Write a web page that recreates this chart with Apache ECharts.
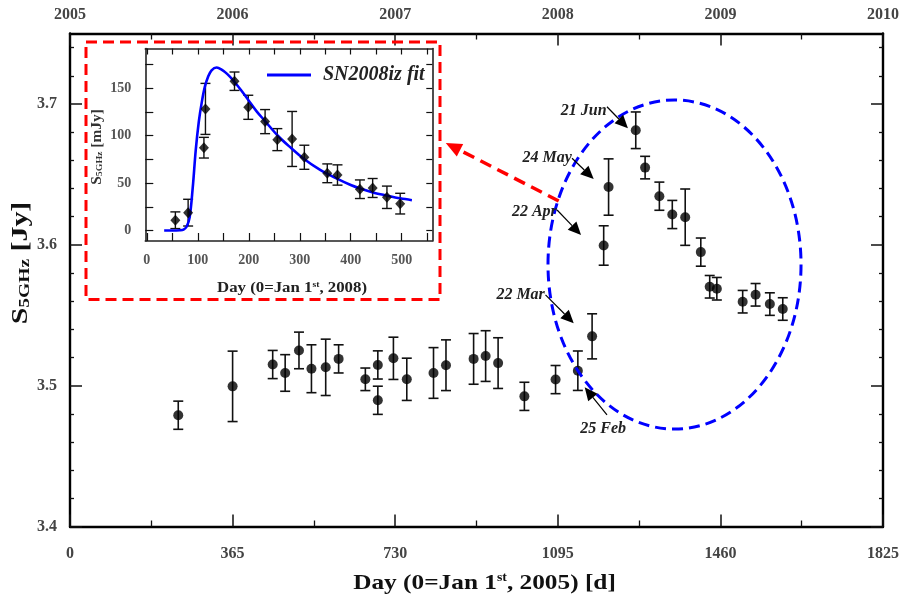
<!DOCTYPE html>
<html>
<head>
<meta charset="utf-8">
<script src="https://cdn.jsdelivr.net/npm/echarts@6/dist/echarts.min.js"></script>
<style>
  html, body { margin: 0; padding: 0; background: #fff; }
  #chart { width: 899px; height: 597px; }
</style>
</head>
<body>
<div id="chart"></div>
<script>
// 5 GHz flux density monitoring, days counted from 2005-01-01
const obsDay  = [243, 365, 455, 483, 514, 542, 574, 603, 663, 691, 691, 726, 756, 816, 844, 906, 933, 961,
                 1020, 1090, 1140, 1172, 1198, 1209, 1270, 1291, 1323, 1352, 1381, 1416, 1436, 1452, 1510, 1539, 1571, 1600];
const obsFlux = [3.479, 3.4995, 3.515, 3.509, 3.525, 3.512, 3.513, 3.519, 3.5045, 3.5147, 3.4896, 3.5194, 3.5045, 3.509, 3.5145, 3.519, 3.521, 3.516,
                 3.4924, 3.5043, 3.5106, 3.535, 3.5995, 3.641, 3.6813, 3.6548, 3.6345, 3.6215, 3.6196, 3.5948, 3.5702, 3.5688, 3.5596, 3.5645, 3.5579, 3.5544];
const obsErr  = [0.010, 0.025, 0.010, 0.013, 0.013, 0.017, 0.020, 0.010, 0.008, 0.010, 0.010, 0.015, 0.015, 0.018, 0.018, 0.018, 0.018, 0.018,
                 0.010, 0.010, 0.014, 0.016, 0.014, 0.020, 0.013, 0.008, 0.010, 0.010, 0.020, 0.010, 0.008, 0.008, 0.008, 0.008, 0.008, 0.008];

// SN2008iz light curve, days counted from 2008-01-01 (mJy)
const snDay  = [56, 81, 112, 115, 172, 199, 232, 256, 285, 309, 354, 374, 418, 443, 471, 497];
const snFlux = [10.9, 18.9, 87.4, 128.3, 157.5, 130.0, 114.9, 95.9, 96.6, 77.3, 60.4, 58.6, 43.6, 44.9, 35.1, 28.4];
const snErr  = [8.8, 14.1, 10.9, 26.9, 9.7, 12.7, 12.7, 11.6, 29.0, 12.7, 9.9, 10.7, 9.8, 10.0, 11.8, 10.9];

// Fitted light curve
const fitDay  = [34, 50, 65, 72, 78, 84, 90, 96, 102, 108, 114, 120, 127, 137, 146, 158, 170, 185, 200, 215, 231,
                 257, 283, 307, 340, 372, 400, 420, 445, 470, 497, 520];
const fitFlux = [0, 0, 0.3, 1, 4, 14, 45, 85, 115, 136, 152, 162, 169, 172, 170, 165, 158, 148, 137, 126, 116,
                 100, 87, 76, 64, 55, 48, 44, 40, 37, 34, 32];

// Tick values and labels
const dayTicks = [0, 365, 730, 1095, 1460, 1825];
const dayMinorTicks = [182.5, 547.5, 912.5, 1277.5, 1642.5];
const yearLabels = ['2005', '2006', '2007', '2008', '2009', '2010'];
const fluxTicks = [3.4, 3.5, 3.6, 3.7];
const fluxMinorTicks = [3.42, 3.44, 3.46, 3.48, 3.52, 3.54, 3.56, 3.58, 3.62, 3.64, 3.66, 3.68, 3.72, 3.74];
const snDayTicks = [0, 100, 200, 300, 400, 500];
const snDayMinorTicks = [0, 50, 100, 150, 200, 250, 300, 350, 400, 450, 500, 550];
const snFluxTicks = [0, 50, 100, 150];
const snFluxMinorTicks = [0, 25, 50, 75, 100, 125, 150, 175];

// Date labels with pointer arrows (data coordinates of the main panel)
const dateNotes = [
  { text: '21 Jun', anchor: [1204.7, 3.6952], align: 'right', from: [1205.4, 3.6980], tip: [1252.4, 3.6827] },
  { text: '24 May', anchor: [1126.3, 3.6618], align: 'right', from: [1127.0, 3.6614], tip: [1175.6, 3.6467] },
  { text: '22 Apr', anchor: [1092.8, 3.6235], align: 'right', from: [1093.4, 3.6247], tip: [1147.2, 3.6069] },
  { text: '22 Mar', anchor: [1065.9, 3.5644], align: 'right', from: [1067.4, 3.5644], tip: [1130.8, 3.5443] },
  { text: '25 Feb', anchor: [1196.9, 3.4690], align: 'center', from: [1205.4, 3.4792], tip: [1155.4, 3.4988] }
];
// Highlight ellipse around the 2008 flare (centre, semi-axes in data units)
const flareEllipse = { center: [1357, 3.586], rDay: 284, rFlux: 0.1168 };
const insetPointer = { from: [1097.0, 3.6311], tip: [843.5, 3.6723] };

const SERIF = "'Liberation Serif', 'DejaVu Serif', serif";
const MAIN = { left: 70, top: 33.5, width: 813, height: 493 };
const INSET = { left: 145.3, top: 48.5, width: 287, height: 192.5 };

const chart = echarts.init(document.getElementById('chart'), null, { renderer: 'canvas' });

function axis(o) {
  return Object.assign({
    type: 'value',
    splitLine: { show: false },
    axisLine: { show: false, onZero: false },
    axisLabel: { show: false },
    axisTick: { show: false },
    minorTick: { show: false }
  }, o);
}
const mainLine = { show: true, onZero: false, lineStyle: { color: '#000', width: 2.4 } };
const insetLine = { show: true, onZero: false, lineStyle: { color: '#222', width: 1.6 } };
const tickStyle = (len, vals, w) => ({ show: true, inside: true, length: len, customValues: vals, lineStyle: { color: '#111', width: w } });
const mainLabel = (vals, margin, fmt) => ({
  show: true, customValues: vals, margin: margin, formatter: fmt,
  color: '#444', fontFamily: SERIF, fontWeight: 'bold', fontSize: 16
});
const insetLabel = (vals, margin) => ({
  show: true, customValues: vals, margin: margin,
  color: '#555', fontFamily: SERIF, fontWeight: 'bold', fontSize: 14
});

const xAxes = [
  axis({ gridIndex: 0, position: 'bottom', min: 0, max: 1825, axisLine: mainLine,
         axisTick: tickStyle(12, dayTicks, 1.5), axisLabel: mainLabel(dayTicks, 19, v => String(v)) }),
  axis({ gridIndex: 0, position: 'bottom', min: 0, max: 1825, axisTick: tickStyle(6, dayMinorTicks, 1.3) }),
  axis({ gridIndex: 0, position: 'top', min: 0, max: 1825, axisLine: mainLine,
         axisTick: tickStyle(12, dayTicks, 1.5),
         axisLabel: mainLabel(dayTicks, 11, v => yearLabels[dayTicks.indexOf(v)]) }),
  axis({ gridIndex: 0, position: 'top', min: 0, max: 1825, axisTick: tickStyle(6, dayMinorTicks, 1.3) }),
  axis({ gridIndex: 1, position: 'bottom', min: -3, max: 560, axisLine: insetLine,
         axisTick: tickStyle(8, snDayMinorTicks, 1.2), axisLabel: insetLabel(snDayTicks, 12) }),
  axis({ gridIndex: 1, position: 'top', min: -3, max: 560, axisLine: insetLine,
         axisTick: tickStyle(6, snDayMinorTicks, 1.2) })
];
const yAxes = [
  axis({ gridIndex: 0, position: 'left', min: 3.4, max: 3.75, axisLine: mainLine,
         axisTick: tickStyle(12, fluxTicks, 1.5), axisLabel: mainLabel(fluxTicks, 13, v => v.toFixed(1)) }),
  axis({ gridIndex: 0, position: 'left', min: 3.4, max: 3.75, axisTick: tickStyle(4, fluxMinorTicks, 1.3) }),
  axis({ gridIndex: 0, position: 'right', min: 3.4, max: 3.75, axisLine: mainLine,
         axisTick: tickStyle(12, fluxTicks, 1.5) }),
  axis({ gridIndex: 0, position: 'right', min: 3.4, max: 3.75, axisTick: tickStyle(4, fluxMinorTicks, 1.3) }),
  axis({ gridIndex: 1, position: 'left', min: -11, max: 192, axisLine: insetLine,
         axisTick: tickStyle(8, snFluxMinorTicks, 1.2), axisLabel: insetLabel(snFluxTicks, 14) }),
  axis({ gridIndex: 1, position: 'right', min: -11, max: 192, axisLine: insetLine,
         axisTick: tickStyle(6, snFluxMinorTicks, 1.2) })
];

function errorBars(capHalf, width) {
  return function (params, api) {
    const x = api.value(0);
    const top = api.coord([x, api.value(2)]);
    const bot = api.coord([x, api.value(1)]);
    const style = { stroke: '#111', lineWidth: width, fill: null };
    return {
      type: 'group',
      children: [
        { type: 'line', shape: { x1: top[0], y1: top[1], x2: bot[0], y2: bot[1] }, style: style },
        { type: 'line', shape: { x1: top[0] - capHalf, y1: top[1], x2: top[0] + capHalf, y2: top[1] }, style: style },
        { type: 'line', shape: { x1: bot[0] - capHalf, y1: bot[1], x2: bot[0] + capHalf, y2: bot[1] }, style: style }
      ]
    };
  };
}

chart.setOption({
  animation: false,
  backgroundColor: '#fff',
  grid: [
    Object.assign({ containLabel: false, outerBoundsMode: 'none' }, MAIN),
    Object.assign({ containLabel: false, outerBoundsMode: 'none', show: true, backgroundColor: '#fff', borderWidth: 0 }, INSET)
  ],
  xAxis: xAxes,
  yAxis: yAxes,
  legend: {
    data: ['SN2008iz fit'],
    left: 262, top: 60,
    icon: 'rect',
    itemWidth: 44, itemHeight: 3,
    itemGap: 0,
    textStyle: { fontFamily: SERIF, fontStyle: 'italic', fontWeight: 'bold', fontSize: 20, color: '#222', padding: [0, 0, 0, 7] }
  },
  series: [
    {
      type: 'custom', xAxisIndex: 0, yAxisIndex: 0,
      renderItem: errorBars(5, 1.6),
      encode: { x: 0, y: [1, 2] },
      data: obsDay.map((d, i) => [d, obsFlux[i] - obsErr[i], obsFlux[i] + obsErr[i]]),
      z: 2
    },
    {
      type: 'scatter', xAxisIndex: 0, yAxisIndex: 0,
      symbol: 'circle', symbolSize: 10,
      itemStyle: { color: '#000' },
      data: obsDay.map((d, i) => [d, obsFlux[i]]),
      z: 3
    },
    {
      type: 'custom', xAxisIndex: 4, yAxisIndex: 4,
      renderItem: errorBars(5, 1.4),
      encode: { x: 0, y: [1, 2] },
      data: snDay.map((d, i) => [d, snFlux[i] - snErr[i], snFlux[i] + snErr[i]]),
      z: 2
    },
    {
      name: 'SN2008iz fit',
      type: 'line', xAxisIndex: 4, yAxisIndex: 4,
      smooth: 0.35, symbol: 'none',
      lineStyle: { color: '#0000ff', width: 2.6 },
      itemStyle: { color: '#0000ff' },
      data: fitDay.map((d, i) => [d, fitFlux[i]]),
      z: 3
    },
    {
      type: 'scatter', xAxisIndex: 4, yAxisIndex: 4,
      symbol: 'diamond', symbolSize: [10, 11],
      itemStyle: { color: '#000' },
      data: snDay.map((d, i) => [d, snFlux[i]]),
      z: 4
    }
  ]
});

// Annotations placed through the main panel's coordinate system
const toPx = p => chart.convertToPixel({ xAxisIndex: 0, yAxisIndex: 0 }, p);

function arrowHead(from, tip, len, half) {
  const dx = tip[0] - from[0], dy = tip[1] - from[1];
  const d = Math.hypot(dx, dy), ux = dx / d, uy = dy / d;
  const bx = tip[0] - ux * len, by = tip[1] - uy * len;
  return [[tip[0], tip[1]], [bx - uy * half, by + ux * half], [bx + uy * half, by - ux * half]];
}

const graphics = [];

// Dashed frame around the inset panel
graphics.push({
  type: 'rect', z: 1,
  shape: { x: 86, y: 42, width: 354, height: 257.5 },
  style: { fill: null, stroke: '#ff0000', lineWidth: 3, lineDash: [11, 6] }
});

// Ellipse around the flare
const ec = toPx(flareEllipse.center);
const ex = toPx([flareEllipse.center[0] + flareEllipse.rDay, flareEllipse.center[1] + flareEllipse.rFlux]);
graphics.push({
  type: 'ellipse', z: 5,
  shape: { cx: ec[0], cy: ec[1], rx: ex[0] - ec[0], ry: ec[1] - ex[1] },
  style: { fill: null, stroke: '#0000ff', lineWidth: 3, lineDash: [11, 6] }
});

// Dashed pointer from the flare to the inset
const pf = toPx(insetPointer.from), pt = toPx(insetPointer.tip);
const ph = arrowHead(pf, pt, 16, 7);
const phBase = [(ph[1][0] + ph[2][0]) / 2, (ph[1][1] + ph[2][1]) / 2];
graphics.push({
  type: 'line', z: 5,
  shape: { x1: pf[0], y1: pf[1], x2: phBase[0], y2: phBase[1] },
  style: { stroke: '#ff0000', lineWidth: 3.5, lineDash: [12, 7] }
});
graphics.push({ type: 'polygon', z: 5, shape: { points: ph }, style: { fill: '#ff0000' } });

// Date labels
dateNotes.forEach(n => {
  const a = toPx(n.anchor), f = toPx(n.from), t = toPx(n.tip);
  const head = arrowHead(f, t, 13, 6);
  const base = [(head[1][0] + head[2][0]) / 2, (head[1][1] + head[2][1]) / 2];
  graphics.push({
    type: 'line', z: 6,
    shape: { x1: f[0], y1: f[1], x2: base[0], y2: base[1] },
    style: { stroke: '#000', lineWidth: 1.2 }
  });
  graphics.push({ type: 'polygon', z: 6, shape: { points: head }, style: { fill: '#000' } });
  graphics.push({
    type: 'text', z: 6, x: a[0], y: a[1],
    style: {
      text: n.text, align: n.align, verticalAlign: 'middle',
      font: "italic bold 16px " + SERIF, fill: '#222'
    }
  });
});

// Axis titles
graphics.push({
  type: 'text', z: 6, x: 484.5, y: 583, scaleX: 1.15,
  style: {
    text: '{a|Day (0=Jan 1}{sup|st}{a|, 2005) [d]}',
    align: 'center', verticalAlign: 'middle',
    rich: {
      a: { fontFamily: SERIF, fontWeight: 'bold', fontSize: 22, fill: '#111' },
      sup: { fontFamily: SERIF, fontWeight: 'bold', fontSize: 12, fill: '#111', verticalAlign: 'top', padding: [0, 0, 7, 0] }
    }
  }
});
graphics.push({
  type: 'text', z: 6, x: 21, y: 263, rotation: Math.PI / 2, scaleX: 1.3,
  style: {
    text: '{a|S}{sub|5GHz}{a| [Jy]}',
    align: 'center', verticalAlign: 'middle',
    rich: {
      a: { fontFamily: SERIF, fontWeight: 'bold', fontSize: 23, fill: '#111' },
      sub: { fontFamily: SERIF, fontWeight: 'bold', fontSize: 15, fill: '#111', verticalAlign: 'bottom', padding: [7, 0, 0, 0] }
    }
  }
});
graphics.push({
  type: 'text', z: 6, x: 292, y: 288, scaleX: 1.2,
  style: {
    text: '{a|Day (0=Jan 1}{sup|st}{a|, 2008)}',
    align: 'center', verticalAlign: 'middle',
    rich: {
      a: { fontFamily: SERIF, fontWeight: 'bold', fontSize: 14, fill: '#222' },
      sup: { fontFamily: SERIF, fontWeight: 'bold', fontSize: 8, fill: '#222', verticalAlign: 'top', padding: [0, 0, 5, 0] }
    }
  }
});
graphics.push({
  type: 'text', z: 6, x: 97, y: 147, rotation: Math.PI / 2, scaleX: 1.1,
  style: {
    text: '{a|S}{sub|5GHz}{a| [mJy]}',
    align: 'center', verticalAlign: 'middle',
    rich: {
      a: { fontFamily: SERIF, fontWeight: 'bold', fontSize: 14, fill: '#333' },
      sub: { fontFamily: SERIF, fontWeight: 'bold', fontSize: 9, fill: '#333', verticalAlign: 'bottom', padding: [4, 0, 0, 0] }
    }
  }
});

chart.setOption({ graphic: graphics });
</script>
</body>
</html>
